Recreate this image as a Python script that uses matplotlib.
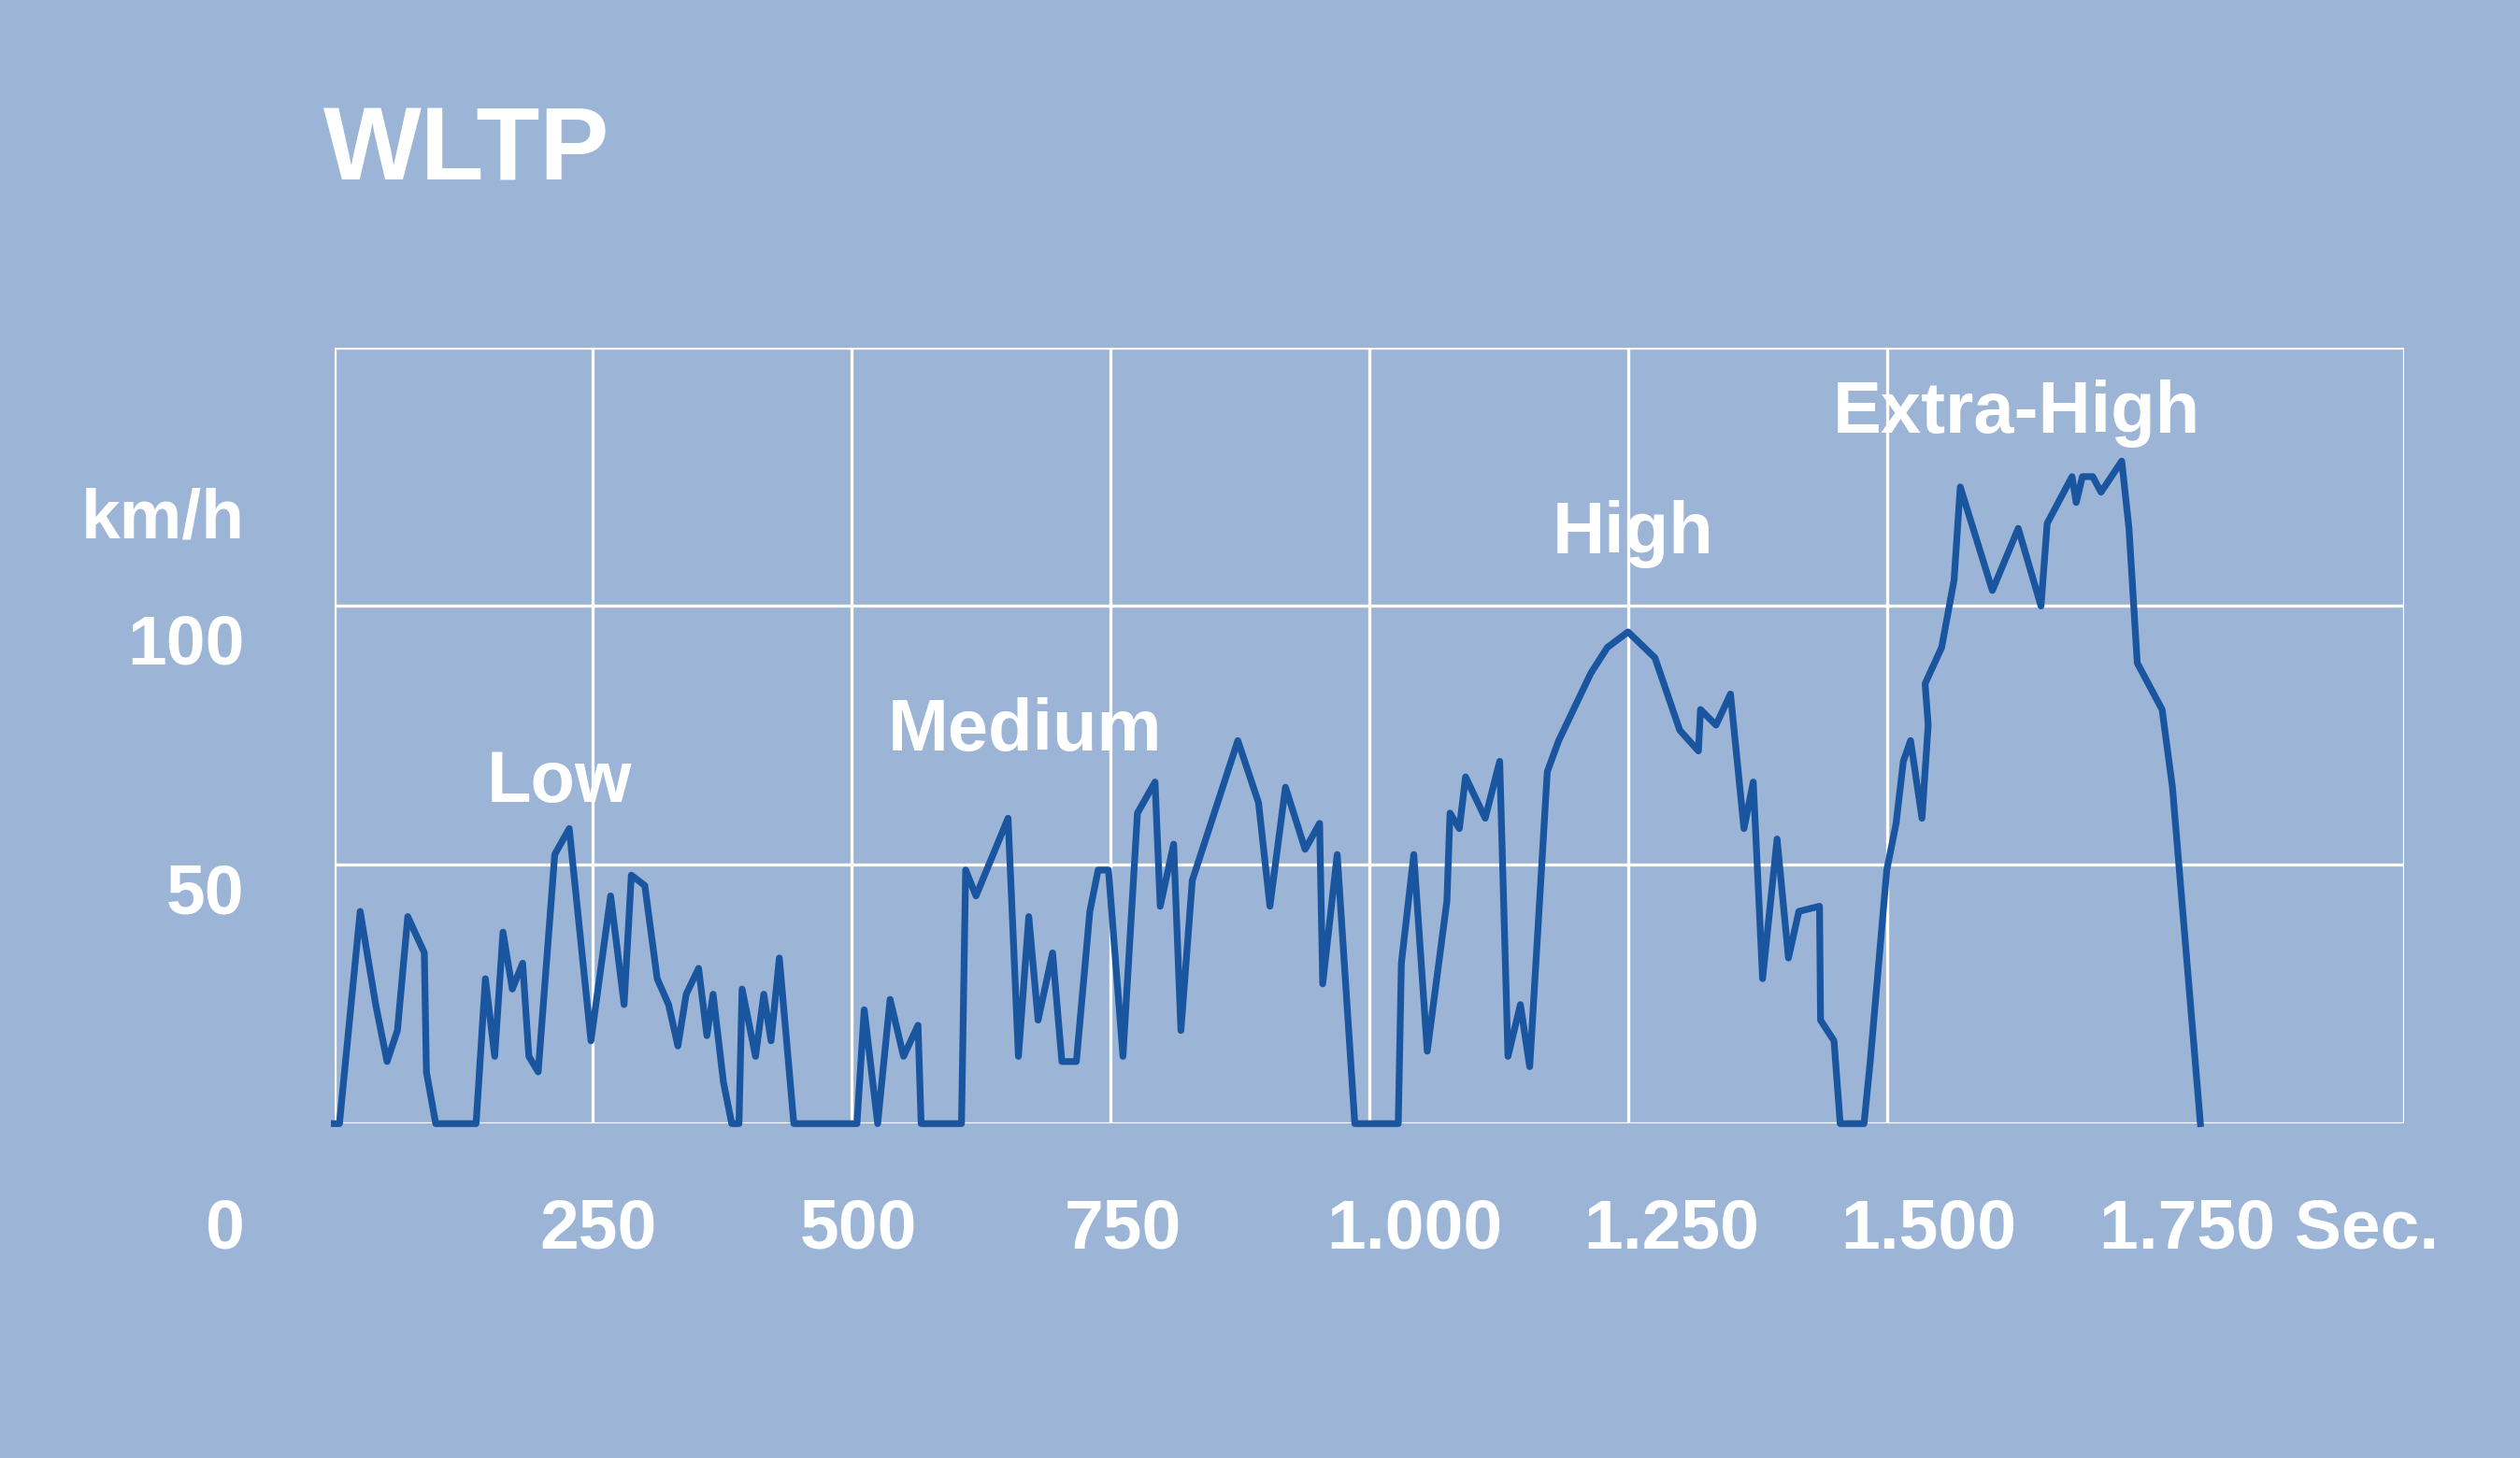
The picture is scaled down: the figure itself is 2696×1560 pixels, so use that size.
import matplotlib
matplotlib.use("Agg")
import matplotlib.pyplot as plt

time_s = [0,5,25,40,51,61,71,87,89,98,137,146,155,163,172,182,188,197,213,227,248,267,280,287,300,312,323,332,340,352,360,366,376,384,391,394,407,415,422,430,444,505,512,525,537,550,564,567,606,610,620,651,661,671,680,694,703,717,730,738,748,762,776,793,798,811,818,829,873,893,904,919,938,952,955,969,986,1028,1031,1043,1056,1075,1078,1087,1093,1112,1126,1134,1146,1155,1172,1183,1214,1230,1250,1276,1300,1318,1320,1335,1349,1362,1371,1380,1394,1405,1415,1435,1436,1449,1455,1478,1484,1500,1509,1516,1523,1534,1540,1537,1553,1565,1571,1602,1627,1649,1655,1679,1683,1689,1699,1707,1727,1734,1742,1766,1776,1803]
speed_kmh = [0,0,41,23,12,18,40,33,10,0,0,28,13,37,26,31,13,10,52,57,16,44,23,48,46,28,23,15,25,30,17,25,8,0,0,26,13,25,16,32,0,0,22,0,24,13,19,0,0,49,44,59,13,40,20,33,12,12,41,49,49,13,60,66,42,54,18,47,74,62,42,65,53,58,27,52,0,0,31,52,14,43,60,57,67,59,70,13,23,11,68,74,87,92,95,90,76,72,80,77,83,57,66,28,55,32,41,42,20,16,0,0,12,49,58,70,74,59,77,85,92,105,123,103,115,100,116,125,120,125,125,122,128,115,89,80,65,0]

phase_labels = ["Low", "Medium", "High", "Extra-High"]
phase_pos = [(348,487),(638,455),(1016,332),(1255,257)]
x_tick_labels = ["0","250","500","750","1.000","1.250","1.500","1.750 Sec."]
x_tick_pos = [140,372,534,699,880,1040,1200,1412]
y_tick_labels = ["km/h","100","50"]
y_tick_pos = [323,402,557]

W, H = 1568, 907
bg = "#9cb4d6"
fig = plt.figure(figsize=(26.96,15.6), dpi=100, facecolor=bg)
ax = fig.add_axes([208/W, 1-699/H, (1496-208)/W, (699-216)/H])
ax.set_facecolor(bg)
ax.set_xlim(0,2000); ax.set_ylim(0,150)
for s in ax.spines.values():
    s.set_visible(False)
ax.set_xticks([]); ax.set_yticks([])
for xv in [0,250,500,750,1000,1250,1500,2000]:
    ax.axvline(xv, color="white", lw=2.4)
for yv in [0,50,100,150]:
    ax.axhline(yv, color="white", lw=2.4)
ax.plot(time_s, speed_kmh, color="#1a55a0", lw=5.2, clip_on=False)

font = "Liberation Sans"
fig.text(290/W, 1-95/H, "WLTP", fontsize=80, fontweight="bold", color="white", family=font, ha="center", va="center")
for lab,(x,y) in zip(phase_labels, phase_pos):
    fig.text(x/W, 1-y/H, lab, fontsize=56, fontweight="bold", color="white", family=font, ha="center", va="center")
for lab,x in zip(x_tick_labels, x_tick_pos):
    fig.text(x/W, 1-765/H, lab, fontsize=54, fontweight="bold", color="white", family=font, ha="center", va="center")
for lab,y in zip(y_tick_labels, y_tick_pos):
    fig.text(152/W, 1-y/H, lab, fontsize=54, fontweight="bold", color="white", family=font, ha="right", va="center")

fig.savefig("out.png", dpi=100, facecolor=bg)
